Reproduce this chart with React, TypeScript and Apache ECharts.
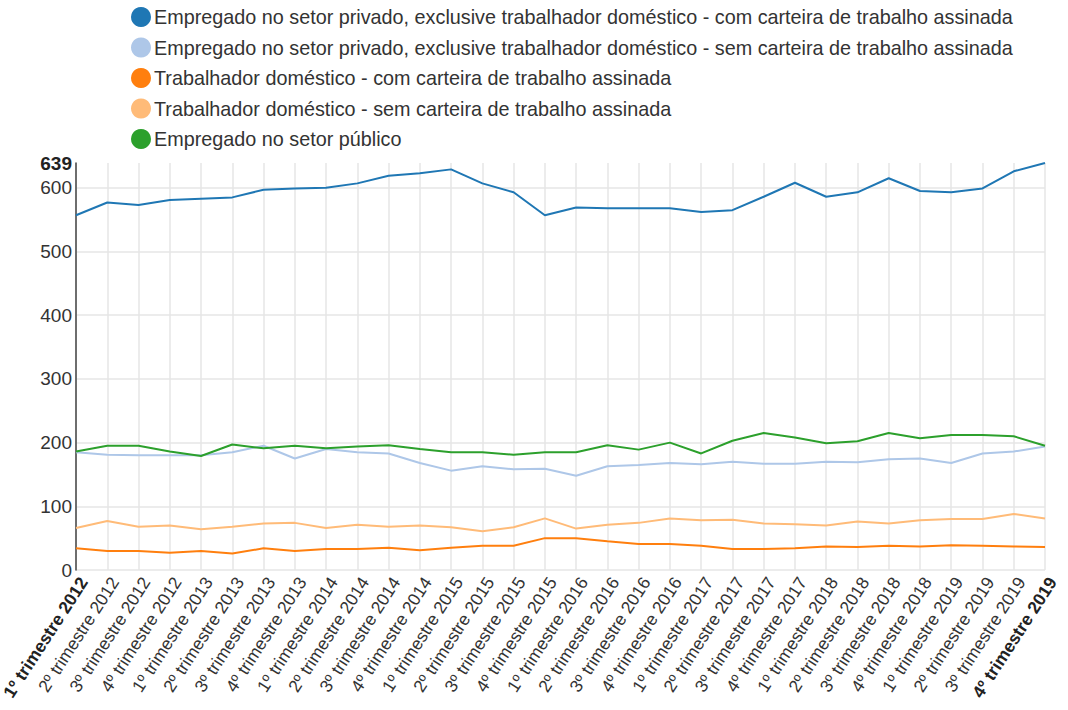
import React, { useEffect, useRef } from "react";
import * as echarts from "echarts";

const categories: string[] = [];
const years = [2012, 2013, 2014, 2015, 2016, 2017, 2018, 2019];
for (const y of years) {
  for (let q = 1; q <= 4; q++) categories.push(`${q}º trimestre ${y}`);
}

const seriesNames = [
  "Empregado no setor privado, exclusive trabalhador doméstico - com carteira de trabalho assinada",
  "Empregado no setor privado, exclusive trabalhador doméstico - sem carteira de trabalho assinada",
  "Trabalhador doméstico - com carteira de trabalho assinada",
  "Trabalhador doméstico - sem carteira de trabalho assinada",
  "Empregado no setor público",
];

const privComCarteira = [557, 577, 573, 581, 583, 585, 597, 599, 600, 607, 619, 623, 629, 607, 593, 557, 569, 568, 568, 568, 562, 565, 586, 608, 586, 593, 615, 595, 593, 599, 626, 639];
const privSemCarteira = [185, 181, 180, 180, 180, 185, 195, 175, 190, 185, 183, 168, 156, 163, 158, 159, 148, 163, 165, 168, 166, 170, 167, 167, 170, 169, 174, 175, 168, 183, 186, 194];
const domComCarteira = [34, 30, 30, 27, 30, 26, 34, 30, 33, 33, 35, 31, 35, 38, 38, 50, 50, 45, 41, 41, 38, 33, 33, 34, 37, 36, 38, 37, 39, 38, 37, 36];
const domSemCarteira = [66, 77, 68, 70, 64, 68, 73, 74, 66, 71, 68, 70, 67, 61, 67, 81, 65, 71, 74, 81, 78, 79, 73, 72, 70, 76, 73, 78, 80, 80, 88, 81];
const setorPublico = [186, 195, 195, 186, 179, 197, 191, 195, 191, 194, 196, 190, 185, 185, 181, 185, 185, 196, 189, 200, 183, 203, 215, 208, 199, 202, 215, 207, 212, 212, 210, 195];

const colors = ["#1f77b4", "#aec7e8", "#ff7f0e", "#ffbb78", "#2ca02c"];
const yMax = 639;

export default function App() {
  const ref = useRef<HTMLDivElement>(null);
  useEffect(() => {
    if (!ref.current) return;
    const chart = echarts.init(ref.current, undefined, { renderer: "svg" });
    const data = [privComCarteira, privSemCarteira, domComCarteira, domSemCarteira, setorPublico];
    chart.setOption({
      animation: false,
      color: colors,
      textStyle: { fontFamily: "Liberation Sans, Arial, sans-serif" },
      legend: {
        orient: "vertical",
        left: 131,
        top: 7,
        padding: 0,
        itemWidth: 20,
        itemHeight: 20,
        itemGap: 10.5,
        icon: "circle",
        textStyle: { fontSize: 19.8, color: "#333", padding: [0, 0, 0, -2] },
        data: seriesNames,
      },
      grid: { left: 76, right: 23, top: 163, bottom: 140, containLabel: false, outerBoundsMode: "none" },
      xAxis: {
        type: "category",
        data: categories,
        boundaryGap: false,
        axisLine: { show: false },
        axisTick: { show: false },
        splitLine: { show: true, lineStyle: { color: "#e6e6e6", width: 1.5 } },
        axisLabel: {
          rotate: 57,
          interval: 0,
          fontSize: 17.5,
          color: "#333",
          margin: 4,
          verticalAlign: "top",
          formatter: (v: string, i: number) =>
            i === 0 || i === categories.length - 1 ? `{b|${v}}` : v,
          rich: { b: { fontWeight: "bold", fontSize: 17.5, color: "#222" } },
        },
      },
      yAxis: {
        type: "value",
        min: 0,
        max: yMax,
        interval: 100,
        axisLine: { show: true, lineStyle: { color: "#444", width: 1.5 } },
        axisTick: { show: false },
        splitLine: { show: true, showMaxLine: false, lineStyle: { color: "#e6e6e6", width: 1.5 } },
        axisLabel: {
          fontSize: 19,
          color: "#333",
          margin: 4,
          formatter: (v: number) => (v === yMax ? `{b|${v}}` : `${v}`),
          rich: { b: { fontSize: 19, color: "#222", fontWeight: "bold" } },
        },
      },
      series: seriesNames.map((name, i) => ({
        name,
        type: "line",
        data: data[i],
        symbol: "none",
        lineStyle: { width: 2 },
        z: i === 0 ? 5 : 3,
      })),
    });
    return () => chart.dispose();
  }, []);
  return (
    <div
      ref={ref}
      style={{ position: "absolute", left: 0, top: 0, width: 1068, height: 710 }}
    />
  );
}
